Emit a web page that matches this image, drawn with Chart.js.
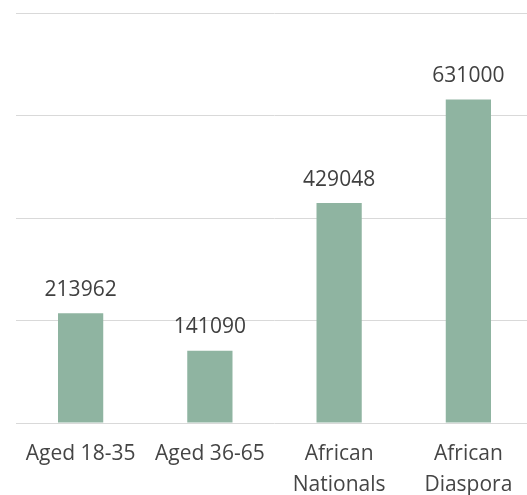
<!DOCTYPE html>
<html>
<head>
<meta charset="utf-8">
<script src="https://cdn.jsdelivr.net/npm/chart.js@4"></script>
<style>
html,body{margin:0;padding:0;background:#fff;overflow:hidden;}
#wrap{width:533px;height:495px;position:relative;}
</style>
</head>
<body>
<div id="wrap"><canvas id="c"></canvas></div>
<script>
const categories = [["Aged 18-35"], ["Aged 36-65"], ["African", "Nationals"], ["African", "Diaspora"]];
const values = [213962, 141090, 429048, 631000];
const yTicks = [0, 200000, 400000, 600000, 800000];

const FONT = '"Open Sans", "Noto Sans", sans-serif';

const labelPlugin = {
  id: 'valueLabels',
  afterDatasetsDraw(chart) {
    const ctx = chart.ctx;
    const meta = chart.getDatasetMeta(0);
    ctx.save();
    ctx.font = '21px ' + FONT;
    ctx.fillStyle = '#404040';
    ctx.textAlign = 'center';
    ctx.textBaseline = 'middle';
    meta.data.forEach((bar, i) => {
      ctx.fillText(String(values[i]), bar.x, bar.y - 23.5);
    });
    ctx.restore();
  }
};

new Chart(document.getElementById('c'), {
  type: 'bar',
  data: {
    labels: categories,
    datasets: [{
      data: values,
      backgroundColor: '#8FB4A1',
      barPercentage: 0.35,
      categoryPercentage: 1.0
    }]
  },
  options: {
    responsive: true,
    maintainAspectRatio: false,
    animation: false,
    layout: { padding: { left: 16, right: 0, top: 13, bottom: 0 } },
    plugins: { legend: { display: false }, tooltip: { enabled: false } },
    scales: {
      x: {
        grid: { display: false },
        border: { display: false },
        afterFit(scale) { scale.height = 72; },
        ticks: {
          color: '#454545',
          font: { family: FONT, size: 21, lineHeight: 1.43 },
          padding: 8.5,
          maxRotation: 0,
          autoSkip: false
        }
      },
      y: {
        min: yTicks[0], max: yTicks[yTicks.length - 1],
        afterBuildTicks(scale) { scale.ticks = yTicks.map(v => ({ value: v })); },
        ticks: { display: false },
        border: { display: false },
        grid: { color: '#D9D9D9', lineWidth: 1, drawTicks: false }
      }
    }
  },
  plugins: [labelPlugin]
});
</script>
</body>
</html>
